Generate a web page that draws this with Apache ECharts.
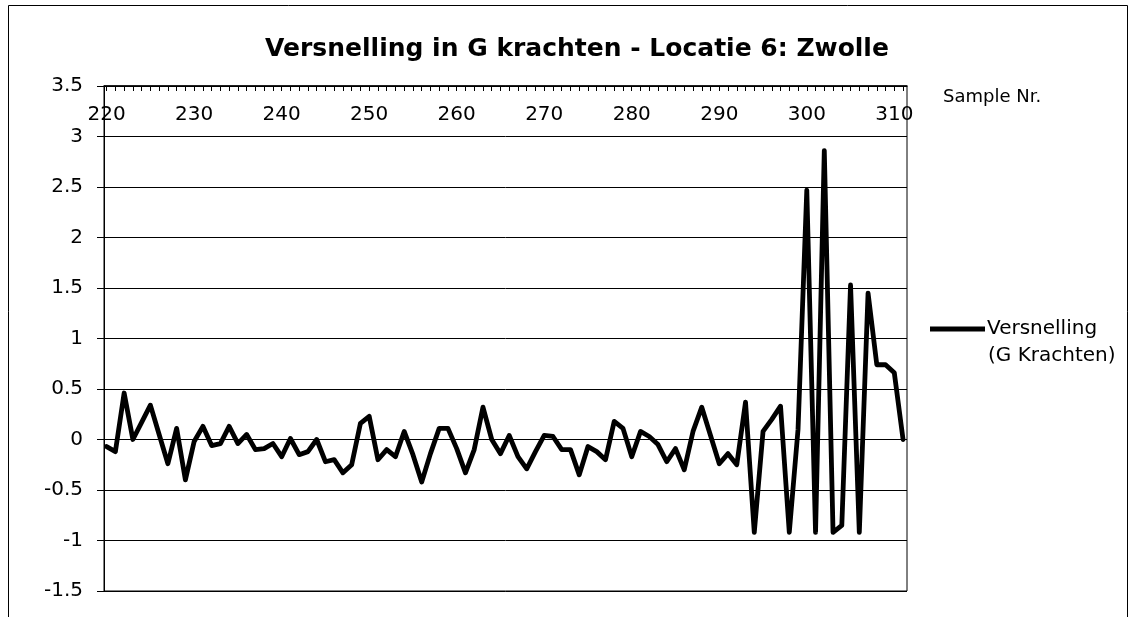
<!DOCTYPE html>
<html>
<head>
<meta charset="utf-8">
<script src="https://cdn.jsdelivr.net/npm/echarts@6/dist/echarts.min.js"></script>
<style>
  html, body { margin: 0; padding: 0; background: #fff; }
  #chart { width: 1135px; height: 617px; }
</style>
</head>
<body>
<div id="chart"></div>
<script>
// sample numbers 220 .. 311
var firstSample = 220;
var accel = [
  -0.07, -0.12, 0.46, 0.0, 0.17, 0.34, 0.05, -0.24, 0.11, -0.4,
  -0.02, 0.13, -0.06, -0.04, 0.13, -0.04, 0.05, -0.1, -0.09, -0.04,
  -0.17, 0.01, -0.15, -0.12, 0.0, -0.22, -0.2, -0.33, -0.25, 0.16,
  0.23, -0.2, -0.1, -0.17, 0.08, -0.15, -0.42, -0.14, 0.11, 0.11,
  -0.09, -0.33, -0.1, 0.32, 0.0, -0.14, 0.04, -0.17, -0.29, -0.12,
  0.04, 0.03, -0.1, -0.1, -0.35, -0.07, -0.12, -0.2, 0.18, 0.11,
  -0.17, 0.08, 0.03, -0.05, -0.22, -0.09, -0.3, 0.08, 0.32, 0.04,
  -0.24, -0.14, -0.25, 0.37, -0.92, 0.08, 0.2, 0.33, -0.92, 0.1,
  2.47, -0.92, 2.86, -0.92, -0.85, 1.53, -0.92, 1.45, 0.74, 0.74,
  0.66, 0.0
];
var xLabels = [220, 230, 240, 250, 260, 270, 280, 290, 300, 310];
var yTicks = [-1.5, -1, -0.5, 0, 0.5, 1, 1.5, 2, 2.5, 3, 3.5];

var sampleNr = [];
for (var i = 0; i < accel.length; i++) {
  sampleNr.push(firstSample + i);
}
var points = sampleNr.map(function (s, i) { return [s, accel[i]]; });

var font = "DejaVu Sans, Arial, sans-serif";
var myChart = echarts.init(document.getElementById("chart"));

var option = {
  backgroundColor: "#fff",
  animation: false,
  title: {
    text: "Versnelling in G krachten - Locatie 6: Zwolle",
    left: 572,
    top: 32,
    textAlign: "center",
    textStyle: { fontFamily: font, fontSize: 25, fontWeight: "bold", color: "#000" }
  },
  grid: {
    left: 104,
    right: 228,
    top: 86,
    bottom: 26,
    show: true,
    borderColor: "#000",
    borderWidth: 1
  },
  legend: {
    left: 930,
    top: 319,
    padding: 0,
    icon: "rect",
    itemWidth: 55,
    itemHeight: 5,
    itemGap: 0,
    formatter: function () { return "Versnelling"; },
    textStyle: { fontFamily: font, fontSize: 20, color: "#000", padding: [0, 0, 0, -3] },
    data: ["Versnelling (G Krachten)"]
  },
  xAxis: {
    type: "value",
    position: "top",
    min: 219.7,
    max: 311.45,
    splitLine: { show: false },
    axisLine: { show: true, onZero: false, lineStyle: { color: "#000", width: 1.5 } },
    axisTick: {
      show: true, inside: true, length: 5,
      customValues: sampleNr,
      lineStyle: { color: "#000" }
    },
    axisLabel: {
      inside: true,
      margin: 19,
      customValues: xLabels,
      fontFamily: font, fontSize: 20, color: "#000"
    }
  },
  yAxis: {
    type: "value",
    min: yTicks[0],
    max: yTicks[yTicks.length - 1],
    interval: 0.5,
    axisLine: { show: true, lineStyle: { color: "#000", width: 1 } },
    axisTick: { show: true, length: 7, lineStyle: { color: "#000" } },
    splitLine: { show: true, lineStyle: { color: "#000", width: 1 } },
    axisLabel: { margin: 21, fontFamily: font, fontSize: 20, color: "#000" }
  },
  graphic: [
    {
      type: "text",
      left: 943,
      top: 88,
      style: { text: "Sample Nr.", font: "18px " + font, fill: "#000" }
    },
    {
      type: "text",
      left: 988,
      top: 346,
      style: { text: "(G Krachten)", font: "20px " + font, fill: "#000" }
    },
    {
      type: "rect",
      shape: { x: 8.5, y: 5.5, width: 1119, height: 640 },
      style: { fill: null, stroke: "#000", lineWidth: 1 },
      silent: true
    }
  ],
  series: [
    {
      name: "Versnelling (G Krachten)",
      type: "line",
      data: points,
      showSymbol: false,
      symbol: "none",
      color: "#000",
      lineStyle: { color: "#000", width: 4.8, join: "round", cap: "round" }
    }
  ]
};

myChart.setOption(option);
</script>
</body>
</html>
